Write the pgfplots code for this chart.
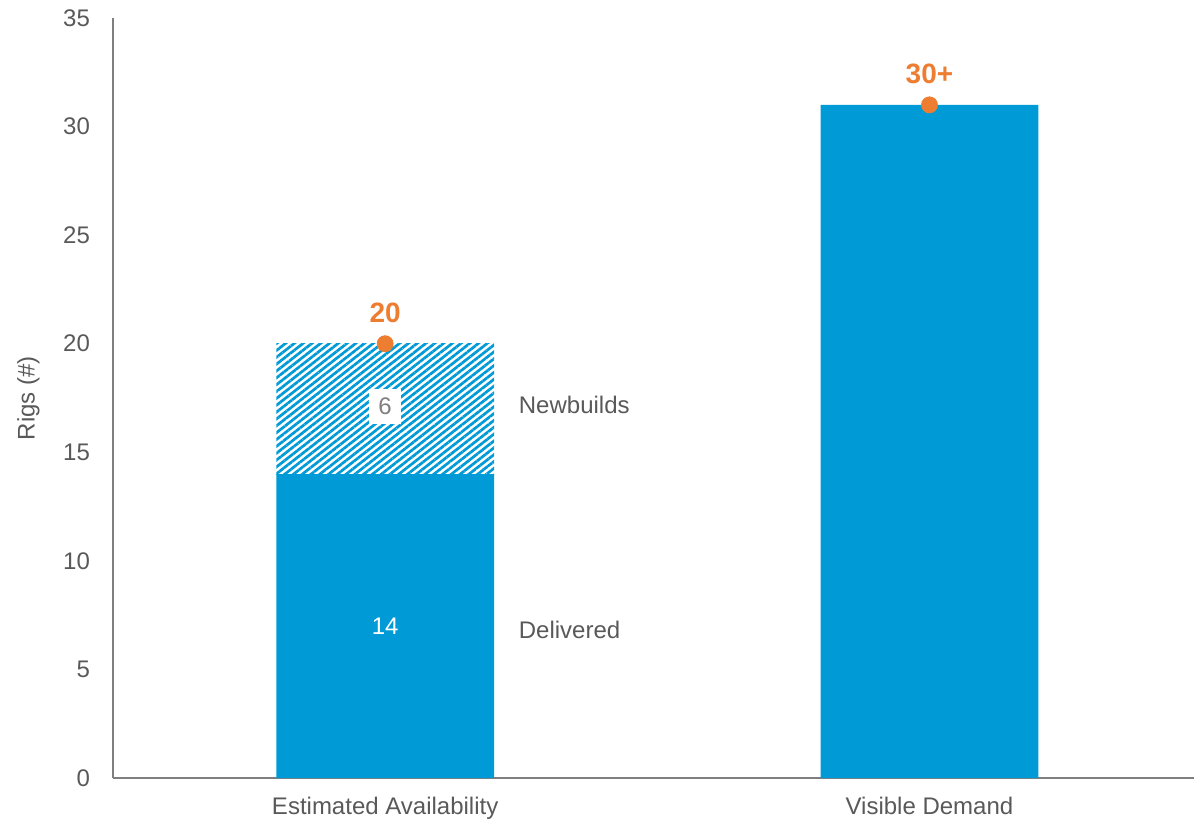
\documentclass[border=0pt]{standalone}
\usepackage{pgfplots}
\pgfplotsset{compat=1.18}
\usepackage{fontspec}
\setmainfont{Liberation Sans}
\usetikzlibrary{patterns.meta}
\definecolor{barblue}{HTML}{009BD6}
\definecolor{dotorange}{HTML}{ED7D31}
\definecolor{txtgray}{HTML}{595959}
\definecolor{axgray}{HTML}{7F7F7F}
\begin{document}
\begin{tikzpicture}
\begin{axis}[
  scale only axis,
  width=540.5pt, height=380pt,
  xmin=-0.5, xmax=1.486,
  ymin=0, ymax=35,
  ytick={0,5,...,35},
  xtick={0,1},
  xticklabels={Estimated Availability, Visible Demand},
  axis x line*=bottom, axis y line*=left,
  axis line style={axgray, line width=0.8pt},
  major tick length=0pt,
  tick style={draw=none},
  ticklabel style={font=\fontsize{12}{14}\selectfont, text=txtgray},
  /pgf/number format/assume math mode=true,
  yticklabel style={xshift=-8pt},
  xticklabel style={yshift=-6pt},
  ylabel={Rigs (\#)},
  ylabel style={font=\fontsize{12}{14}\selectfont, text=txtgray, yshift=5pt},
  ybar stacked,
  bar width=0.4,
  clip=false,
]
\addplot[fill=barblue, draw=none] coordinates {(0,14) (1,31)};
\addplot[draw=none, pattern={Lines[angle=38, distance=2.7pt, line width=1.35pt]}, pattern color=barblue] coordinates {(0,6) (1,0)};
\coordinate (bl) at (rel axis cs:0,0);
\coordinate (tr) at (rel axis cs:1,1);
\end{axis}
\begin{axis}[
  scale only axis,
  width=540.5pt, height=380pt,
  xmin=-0.5, xmax=1.486,
  ymin=0, ymax=35,
  hide axis,
  clip=false,
]
\addplot[only marks, mark=*, mark size=4pt, mark options={fill=dotorange, draw=dotorange},
  nodes near coords, point meta=explicit symbolic,
  nodes near coords style={font=\bfseries\fontsize{14}{16}\selectfont, text=dotorange, yshift=7pt}]
  coordinates {(0,20) [20] (1,31) [30+]};
\addplot[only marks, mark=none, nodes near coords, point meta=explicit symbolic,
  nodes near coords style={font=\fontsize{12}{14}\selectfont, text=white, anchor=center}]
  coordinates {(0,7) [14]};
\addplot[only marks, mark=none, nodes near coords, point meta=explicit symbolic,
  nodes near coords style={font=\fontsize{12}{14}\selectfont, text=axgray, fill=white, anchor=center, inner sep=4.5pt}]
  coordinates {(0,17.1) [6]};
\addplot[only marks, mark=none, nodes near coords, point meta=explicit symbolic,
  nodes near coords style={font=\fontsize{12}{14}\selectfont, text=txtgray, anchor=west, inner sep=0pt}]
  coordinates {(0.245,17.2) [Newbuilds] (0.245,6.8) [Delivered]};
\end{axis}
\pgfresetboundingbox
\path[use as bounding box] ([shift={(-56.5pt,-21pt)}]bl) rectangle ([shift={(0pt,9pt)}]tr);
\end{tikzpicture}
\end{document}
